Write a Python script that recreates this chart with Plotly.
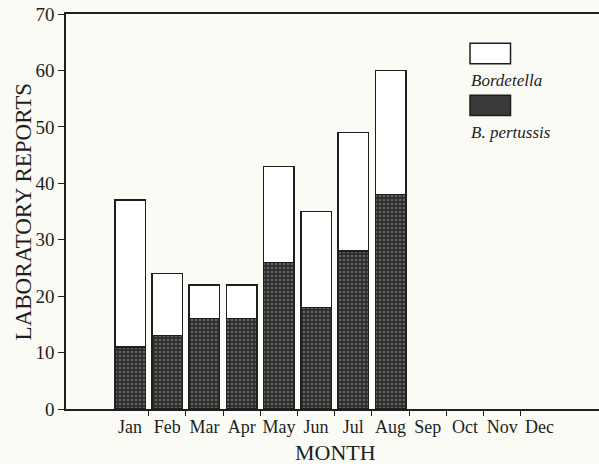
import plotly.graph_objects as go

months = ["Jan", "Feb", "Mar", "Apr", "May", "Jun", "Jul", "Aug", "Sep", "Oct", "Nov", "Dec"]
pertussis = [11, 13, 16, 16, 26, 18, 28, 38]
bordetella_other = [26, 11, 6, 6, 17, 17, 21, 22]
y_ticks = [0, 10, 20, 30, 40, 50, 60, 70]

xpos = list(range(len(months)))
FONT = "Liberation Serif"
BG = "#fbfbf6"
INK = "#1e1e1e"

fig = go.Figure()
fig.add_trace(go.Bar(
    x=xpos[:len(pertussis)], y=pertussis, name="B. pertussis", width=0.82,
    marker=dict(color="#2c2c2c", line=dict(color=INK, width=1.5),
                pattern=dict(shape=".", fgcolor="#9a9a9a", bgcolor="#2c2c2c",
                             size=4, solidity=0.35)),
))
fig.add_trace(go.Bar(
    x=xpos[:len(bordetella_other)], y=bordetella_other, name="Bordetella", width=0.82,
    marker=dict(color="white", line=dict(color=INK, width=1.5)),
))

# legend (custom layout: swatch above italic label)
fig.add_shape(type="rect", xref="paper", yref="paper", x0=0.758, x1=0.834, y0=0.874, y1=0.926,
              fillcolor="white", line=dict(color=INK, width=1.5))
fig.add_shape(type="rect", xref="paper", yref="paper", x0=0.758, x1=0.834, y0=0.743, y1=0.794,
              fillcolor="#3a3a3a", line=dict(color=INK, width=1.5))
fig.add_annotation(text="<i>Bordetella</i>", xref="paper", yref="paper", x=0.756, y=0.832,
                   xanchor="left", yanchor="middle", showarrow=False,
                   font=dict(family=FONT, size=17, color=INK))
fig.add_annotation(text="<i>B. pertussis</i>", xref="paper", yref="paper", x=0.756, y=0.700,
                   xanchor="left", yanchor="middle", showarrow=False,
                   font=dict(family=FONT, size=17, color=INK))
# axis titles
fig.add_annotation(text="MONTH", xref="paper", yref="paper", x=0.505, y=-0.110,
                   xanchor="center", yanchor="middle", showarrow=False,
                   font=dict(family=FONT, size=22, color=INK))
fig.add_annotation(text="LABORATORY REPORTS", xref="paper", yref="paper", x=-0.079, y=0.50,
                   xanchor="center", yanchor="middle", showarrow=False, textangle=-90,
                   font=dict(family=FONT, size=23, color=INK))

fig.update_layout(
    barmode="stack",
    width=599, height=464,
    margin=dict(l=66, r=0, t=13.5, b=55),
    paper_bgcolor=BG, plot_bgcolor=BG,
    showlegend=False,
    font=dict(family=FONT, size=18, color=INK),
    xaxis=dict(
        range=[-1.72, 12.6], tickmode="array", tickvals=xpos, ticktext=months,
        ticks="", showline=True, linecolor=INK, linewidth=1.5, mirror=True,
        showgrid=False, zeroline=False, tickfont=dict(size=18), ticklabelstandoff=1,
        automargin=False,
        minor=dict(tickmode="array", tickvals=[i + 0.5 for i in range(11)],
                   ticks="outside", ticklen=5, tickcolor=INK, tickwidth=1.2),
    ),
    yaxis=dict(
        range=[0, 70], tickmode="array", tickvals=y_ticks,
        ticks="outside", ticklen=6, tickcolor=INK, tickwidth=1.2,
        showline=True, linecolor=INK, linewidth=1.5, mirror=False,
        showgrid=False, zeroline=False, tickfont=dict(size=19),
        automargin=False,
    ),
)

fig.write_html("out.html", config={"displayModeBar": False},
               post_script="document.body.style.margin='0';document.body.style.background='%s';" % BG)
